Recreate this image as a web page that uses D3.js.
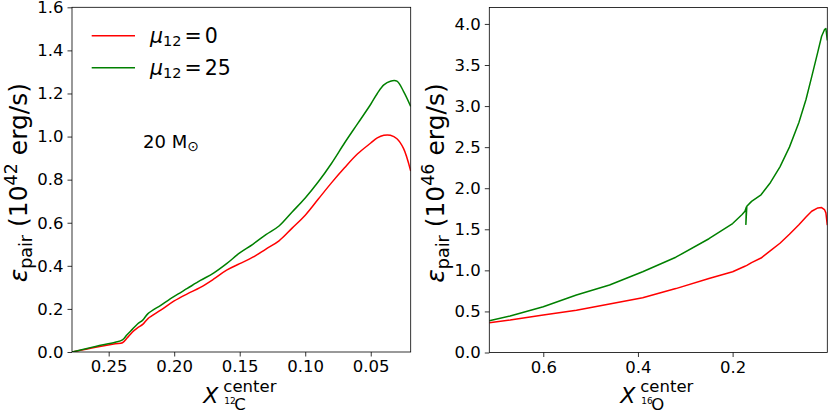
<!DOCTYPE html>
<html>
<head>
<meta charset="utf-8">
<script src="https://cdn.jsdelivr.net/npm/d3@7"></script>
<style>
  body { margin: 0; background: #fff; }
  text { font-family: "DejaVu Sans", sans-serif; fill: #000; }
</style>
</head>
<body>
<script>
// left panel: core carbon fraction vs pair neutrino emission (10^42 erg/s)
const xC = [0.278, 0.26, 0.245, 0.2395, 0.236, 0.232, 0.228, 0.224, 0.22, 0.21, 0.20, 0.19, 0.18, 0.17,
  0.16, 0.15, 0.14, 0.13, 0.12, 0.11, 0.10, 0.09, 0.08, 0.07, 0.06, 0.05, 0.045, 0.04, 0.035, 0.03, 0.025, 0.0195];
const pairC_mu0 = [0.0, 0.022, 0.038, 0.043, 0.065, 0.092, 0.112, 0.128, 0.155, 0.195, 0.237, 0.27, 0.30, 0.338,
  0.38, 0.41, 0.44, 0.478, 0.516, 0.575, 0.635, 0.71, 0.785, 0.855, 0.92, 0.97, 0.994, 1.006, 1.006, 0.99, 0.945, 0.84];
const pairC_mu25 = [0.0, 0.026, 0.045, 0.056, 0.08, 0.105, 0.13, 0.148, 0.178, 0.218, 0.258, 0.295, 0.332, 0.366,
  0.41, 0.46, 0.5, 0.545, 0.585, 0.65, 0.715, 0.79, 0.875, 0.97, 1.06, 1.15, 1.2, 1.24, 1.257, 1.257, 1.21, 1.14];
const xCTicks = [0.25, 0.20, 0.15, 0.10, 0.05];
const yCTicks = [0.0, 0.2, 0.4, 0.6, 0.8, 1.0, 1.2, 1.4, 1.6];

// right panel: core oxygen fraction vs pair neutrino emission (10^46 erg/s)
const xO = [0.714, 0.67, 0.6, 0.53, 0.46, 0.39, 0.32, 0.25, 0.2, 0.18, 0.174, 0.171, 0.172, 0.170, 0.16,
  0.14, 0.12, 0.1, 0.08, 0.06, 0.045, 0.033, 0.02, 0.012, 0.006, 0.003, 0.0];
const pairO_mu0 = [0.363, 0.395, 0.456, 0.515, 0.59, 0.667, 0.778, 0.90, 0.983, 1.035, 1.05, 1.057, 1.055, 1.06, 1.095,
  1.15, 1.24, 1.33, 1.44, 1.555, 1.65, 1.72, 1.76, 1.765, 1.74, 1.7, 1.55];
const pairO_mu25 = [0.387, 0.444, 0.557, 0.70, 0.821, 0.983, 1.16, 1.385, 1.57, 1.68, 1.72, 1.77, 1.56, 1.78, 1.84,
  1.92, 2.07, 2.26, 2.50, 2.80, 3.08, 3.355, 3.66, 3.85, 3.93, 3.944, 3.80];
const xOTicks = [0.6, 0.4, 0.2];
const yOTicks = [0.0, 0.5, 1.0, 1.5, 2.0, 2.5, 3.0, 3.5, 4.0];

const muValues = ["0", "25"];
const seriesColors = ["red", "green"];

const svg = d3.select("body").append("svg")
  .attr("width", 830).attr("height", 415);

function drawPanel(p) {
  const x = d3.scaleLinear().domain(p.xDomain).range([p.left, p.right]);
  const y = d3.scaleLinear().domain(p.yDomain).range([p.bottom, p.top]);
  const g = svg.append("g");

  g.append("clipPath").attr("id", p.id)
    .append("rect")
    .attr("x", p.left).attr("y", p.top)
    .attr("width", p.right - p.left).attr("height", p.bottom - p.top);

  const line = d3.line().curve(p.curve).x(d => x(d[0])).y(d => y(d[1]));
  p.series.forEach((s, i) => {
    g.append("path")
      .datum(p.xs.map((v, j) => [v, s[j]]))
      .attr("clip-path", `url(#${p.id})`)
      .attr("fill", "none")
      .attr("stroke", seriesColors[i])
      .attr("stroke-width", 1.5)
      .attr("stroke-linejoin", "round")
      .attr("d", line);
  });

  // frame
  g.append("rect")
    .attr("x", p.left).attr("y", p.top)
    .attr("width", p.right - p.left).attr("height", p.bottom - p.top)
    .attr("fill", "none").attr("stroke", "#000").attr("stroke-width", 0.8);

  const xAxis = g.append("g").attr("transform", `translate(0,${p.bottom})`)
    .call(d3.axisBottom(x).tickValues(p.xTicks).tickFormat(d3.format(p.xFmt)).tickSize(4.5).tickPadding(4));
  const yAxis = g.append("g").attr("transform", `translate(${p.left},0)`)
    .call(d3.axisLeft(y).tickValues(p.yTicks).tickFormat(d3.format(".1f")).tickSize(4.5).tickPadding(4));
  [xAxis, yAxis].forEach(a => {
    a.select(".domain").remove();
    a.selectAll("line").attr("stroke", "#000").attr("stroke-width", 0.8);
    a.selectAll("text").style("font-family", "DejaVu Sans").style("font-size", "16.5px").attr("fill", "#000");
  });

  // y label: eps_pair (10^n erg/s)
  const yl = g.append("text")
    .attr("transform", `translate(${p.yLabelX},${(p.top + p.bottom) / 2 + 3}) rotate(-90)`)
    .attr("text-anchor", "middle")
    .style("font-size", "25px");
  yl.append("tspan").style("font-style", "italic").text("ε");
  yl.append("tspan").style("font-size", "17.5px").attr("dy", 5).text("pair");
  yl.append("tspan").attr("dy", -5).text(" (10");
  yl.append("tspan").style("font-size", "17.5px").attr("dy", -10).text(p.exp);
  yl.append("tspan").attr("dy", 10).text(" erg/s)");

  // x label: X^center_{iso}
  const cx = (p.left + p.right) / 2;
  const xl = g.append("g").attr("transform", `translate(${cx},403)`);
  xl.append("text").attr("x", -38).attr("y", 0)
    .style("font-size", "22px").style("font-style", "italic").text("X");
  xl.append("text").attr("x", -18).attr("y", -11)
    .style("font-size", "16.5px").text("center");
  xl.append("text").attr("x", -17).attr("y", 1)
    .style("font-size", "9px").text(p.isoMass);
  xl.append("text").attr("x", -7).attr("y", 7)
    .style("font-size", "16.5px").text(p.isoName);

  return { x, y, g };
}

const left = drawPanel({
  id: "clipC", left: 72, right: 410.7, top: 7.3, bottom: 352,
  xDomain: [0.278, 0.0195], yDomain: [0, 1.6],
  xs: xC, series: [pairC_mu0, pairC_mu25], curve: d3.curveCatmullRom.alpha(0.5),
  xTicks: xCTicks, yTicks: yCTicks, xFmt: ".2f",
  yLabelX: 27, exp: "42", isoMass: "12", isoName: "C"
});

drawPanel({
  id: "clipO", left: 489.3, right: 827.3, top: 7.5, bottom: 352.5,
  xDomain: [0.714, 0.0], yDomain: [0, 4.2],
  xs: xO, series: [pairO_mu0, pairO_mu25], curve: d3.curveLinear,
  xTicks: xOTicks, yTicks: yOTicks, xFmt: ".1f",
  yLabelX: 444, exp: "46", isoMass: "16", isoName: "O"
});

// legend in left panel
muValues.forEach((m, i) => {
  const ly = 35.7 + i * 32;
  left.g.append("line")
    .attr("x1", 91.7).attr("x2", 135).attr("y1", ly).attr("y2", ly)
    .attr("stroke", seriesColors[i]).attr("stroke-width", 1.5);
  const t = left.g.append("text").attr("x", 150).attr("y", ly + 7).style("font-size", "20.5px");
  t.append("tspan").style("font-style", "italic").text("μ");
  t.append("tspan").style("font-size", "14.5px").attr("dy", 3).text("12");
  t.append("tspan").attr("dy", -3).attr("dx", 3).text("=");
  t.append("tspan").attr("dx", 3).text(m);
});

// mass annotation
const ann = left.g.append("text").attr("x", 143).attr("y", 148).style("font-size", "18px");
ann.append("tspan").text("20 M");
ann.append("tspan").style("font-size", "14px").attr("dy", 3).text("⊙");
</script>
</body>
</html>
